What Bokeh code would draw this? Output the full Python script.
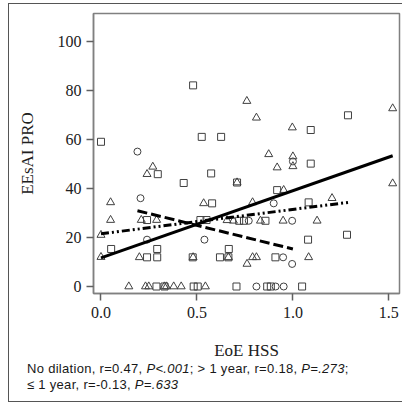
from bokeh.plotting import figure
from bokeh.models import FixedTicker, NumeralTickFormatter, Range1d, Div
from bokeh.layouts import column
from bokeh.embed import file_html
from bokeh.resources import INLINE

# No dilation (triangles, solid fit)
nd_x = [0.0, 0.0, 0.05, 0.05, 0.27, 0.24, 0.21, 0.29, 0.20, 0.145, 0.232, 0.249, 0.341,
        0.379, 0.418, 0.544, 0.535, 0.657, 0.48, 0.33, 0.76, 0.81, 0.997, 1.52, 0.874,
        1.0, 1.0, 0.918, 0.709, 1.52, 0.952, 0.79, 1.204, 0.69, 0.831, 0.949, 1.126,
        0.79, 0.81, 1.082, 0.761, 0.664]
nd_y = [12, 21, 34.3, 27.1, 48.8, 45.8, 27.1, 27.1, 11.9, 0, 0, 0, 0,
        0, 0, 0, 33.9, 27, 11.9, 0, 75.6, 68.8, 64.8, 72.6, 53.9,
        53, 49, 48.5, 42.4, 42, 39.3, 34.3, 36, 26.8, 26.8, 26.8, 26.8,
        11.9, 11.9, 11.9, 9.2, 11.9]

# > 1 year (squares, dotted fit)
gt_x = [0.0, 0.48, 0.525, 0.626, 1.093, 1.287, 1.093, 0.296, 0.431, 0.574, 0.579, 0.24,
        0.518, 0.55, 0.053, 0.293, 0.666, 0.24, 0.293, 0.478, 0.62, 0.664, 0.289, 0.331,
        0.483, 0.504, 0.709, 0.918, 1.082, 0.72, 0.745, 0.857, 1.282, 1.079, 0.909,
        0.706, 0.866, 0.885, 1.048]
gt_y = [59, 82, 61, 61, 63.8, 69.8, 50.1, 45.8, 42.2, 46.1, 33.9, 27.1,
        27.1, 27.1, 15.3, 15.3, 15.3, 11.9, 11.9, 11.9, 11.9, 11.9, 0, 0,
        0, 0, 42.4, 39.3, 34.3, 26.8, 26.8, 26.8, 21.1, 19.1, 11.9,
        0, 0, 0, 0]

# <= 1 year (circles, dashed fit)
le_x = [0.19, 0.206, 0.24, 0.539, 0.77, 0.9, 0.996, 0.949, 0.996, 0.81, 0.91, 0.952, 1.0]
le_y = [55, 36, 19.1, 19.1, 26.8, 33.9, 26.8, 11.9, 9.2, 0, 0, 0, 51]

# fitted lines (end points)
fit_nd_x = [0.0, 1.52]
fit_nd_y = [11.7, 53.3]
fit_gt_x = [0.0, 1.29]
fit_gt_y = [21.5, 34.3]
fit_le_x = [0.19, 1.0]
fit_le_y = [30.9, 15.3]

x_ticks = [0.0, 0.5, 1.0, 1.5]
y_ticks = [0, 20, 40, 60, 80, 100]

caption_line1 = ["No dilation, r=0.47, ", "P&lt;.001", "; &gt; 1 year, r=0.18, ", "P=.273", ";"]
caption_line2 = ["\u2264 1 year, r=-0.13, ", "P=.633"]

p = figure(width=393, height=362, output_backend="svg", toolbar_location=None,
           x_range=Range1d(-0.039, 1.5555), y_range=Range1d(-2.85, 111.3),
           min_border_left=84, min_border_top=9, min_border_right=3, min_border_bottom=73)
p.background_fill_color = "white"
p.border_fill_color = "white"
p.outline_line_color = "#808080"
p.outline_line_width = 1.5
p.xgrid.visible = False
p.ygrid.visible = False

for ax in (p.xaxis[0], p.yaxis[0]):
    ax.axis_line_color = "#808080"
    ax.axis_line_width = 1.5
    ax.major_tick_line_color = "#606060"
    ax.major_tick_line_width = 1.5
    ax.major_tick_in = 0
    ax.major_tick_out = 7
    ax.minor_tick_line_color = None
    ax.major_label_text_font = "Liberation Serif"
    ax.major_label_text_font_size = "16px"
    ax.major_label_text_color = "#202020"
    ax.axis_label_text_font = "Liberation Serif"
    ax.axis_label_text_font_size = "17px"
    ax.axis_label_text_font_style = "normal"
    ax.axis_label_text_color = "#202020"

p.xaxis.ticker = FixedTicker(ticks=x_ticks)
p.xaxis.formatter = NumeralTickFormatter(format="0.0")
p.yaxis.ticker = FixedTicker(ticks=y_ticks)
p.xaxis.axis_label = "EoE HSS"
p.yaxis.axis_label = "EEsAI PRO"
p.xaxis.major_label_standoff = 6
p.xaxis.axis_label_standoff = 20
p.yaxis.major_label_standoff = 5
p.yaxis.axis_label_standoff = 18

mk = "#404040"
p.scatter(gt_x, gt_y, marker="square", size=7, fill_color=None, line_color=mk, line_width=1)
p.scatter(nd_x, nd_y, marker="triangle", size=8, fill_color=None, line_color=mk, line_width=1)
p.scatter(le_x, le_y, marker="circle", size=7, fill_color=None, line_color=mk, line_width=1)

p.line(fit_nd_x, fit_nd_y, line_color="black", line_width=3)
p.line(fit_gt_x, fit_gt_y, line_color="black", line_width=3, line_dash="8 3 2 3 2 3")
p.line(fit_le_x, fit_le_y, line_color="black", line_width=3, line_dash="10 4")

def fmt(parts):
    return "".join(f"<i>{t}</i>" if i % 2 == 1 else t for i, t in enumerate(parts))

cap_html = (
    "<div style=\"font-family:'Liberation Sans',Arial,sans-serif;font-size:13px;"
    "letter-spacing:0.3px;line-height:16px;color:#181818;padding-left:18px;"
    "margin-top:-5px;white-space:nowrap;\">"
    f"{fmt(caption_line1)}<br>{fmt(caption_line2)}</div>"
)
cap = Div(text=cap_html, width=393, height=35, margin=0)

lay = column(p, cap, spacing=0)
lay.styles = {"margin-left": "8px", "margin-top": "3px",
              "border-left": "1px solid #555", "border-top": "1px solid #555",
              "border-bottom": "1px solid #555"}

open("out.html", "w").write(file_html(lay, INLINE))
